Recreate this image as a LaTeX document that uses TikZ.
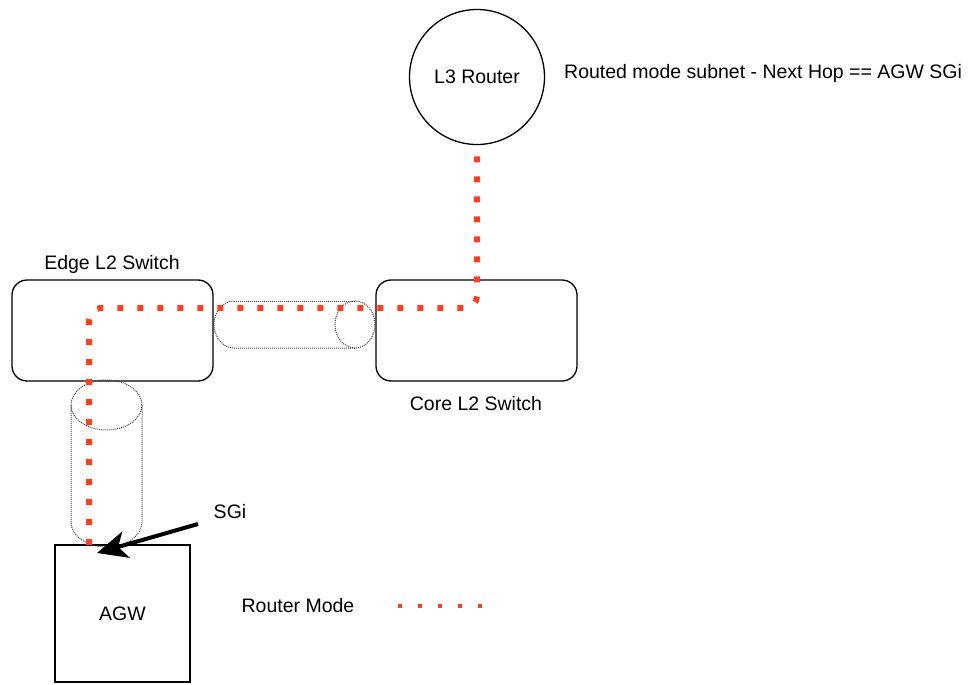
\documentclass[tikz,border=0pt]{standalone}
\usepackage{fontspec}
\setmainfont{Liberation Sans}
\usetikzlibrary{arrows.meta}

\definecolor{routered}{RGB}{255,62,30}

\begin{document}
\begin{tikzpicture}[
  x=1pt, y=-1pt,
  font=\fontsize{19.5}{23}\selectfont,
  >={Stealth[length=30pt,width=27pt,inset=8pt]},
  device/.style={draw=black, line width=1.3pt, fill=white, align=center, inner sep=0pt},
  switchbox/.style={device, rounded corners=15pt, minimum width=201pt, minimum height=101pt},
  gwbox/.style={device, minimum width=135pt, minimum height=137pt},
  routernode/.style={device, circle, minimum size=135pt},
  pipe/.style={draw=black!75, line width=1pt, densely dotted},
  routed/.style={routered, line width=6pt, dash pattern=on 6pt off 14pt, rounded corners=12pt},
  legenddots/.style={routered, line width=4pt, dash pattern=on 4pt off 16pt},
  sgiarrow/.style={->, line width=4pt, black},
  lab/.style={inner sep=1pt},
]
\useasboundingbox (0,0) rectangle (980,685);

%% ── Devices ──────────────────────────────────────────────────────────────────
\node[routernode] (router) at (477,77)      {L3 Router};
\node[switchbox]  (edge)   at (112.5,330.5) {};
\node[switchbox]  (core)   at (476.5,330.5) {};
\node[gwbox]      (agw)    at (122.5,613.5) {AGW};

%% ── Labels ───────────────────────────────────────────────────────────────────
\node[lab] (edgelab)  at (112,264) {Edge L2 Switch};
\node[lab] (corelab)  at (476,404) {Core L2 Switch};
\node[lab, anchor=west] (subnetlab) at (563,73)
  {Routed mode subnet - Next Hop == AGW SGi};
\node[lab] (sgilab)   at (230,512) {SGi};
\node[lab] (modelab)  at (298,606) {Router Mode};

%% ── Links as cylinders ───────────────────────────────────────────────────────
% edge -- core
\draw[pipe] (234,301) -- (355,301);
\draw[pipe] (355,348) -- (234,348) arc[start angle=90, end angle=270, x radius=20, y radius=23.5];
\draw[pipe] (355,324.5) ellipse[x radius=20, y radius=23.5];
% edge -- agw
\draw[pipe] (106.5,405) ellipse[x radius=35.5, y radius=25];
\draw[pipe] (71,405) -- (71,522) arc[start angle=180, end angle=0, x radius=35.5, y radius=25] -- (142,405);

%% ── Routed path ──────────────────────────────────────────────────────────────
\coordinate (sgi)  at (89,545);
\coordinate (bend) at (0,308);
\draw[routed] (sgi) -- (sgi |- bend) -| (router.south);

%% ── SGi pointer ──────────────────────────────────────────────────────────────
\coordinate (sgitail) at (198,524);
\coordinate (sgitip)  at (97,553);
\draw[sgiarrow] (sgitail) -- (sgitip);

%% ── Legend ───────────────────────────────────────────────────────────────────
\coordinate (legA) at (398,606);
\coordinate (legB) at (484,606);
\draw[legenddots] (legA) -- (legB);

\end{tikzpicture}
\end{document}
